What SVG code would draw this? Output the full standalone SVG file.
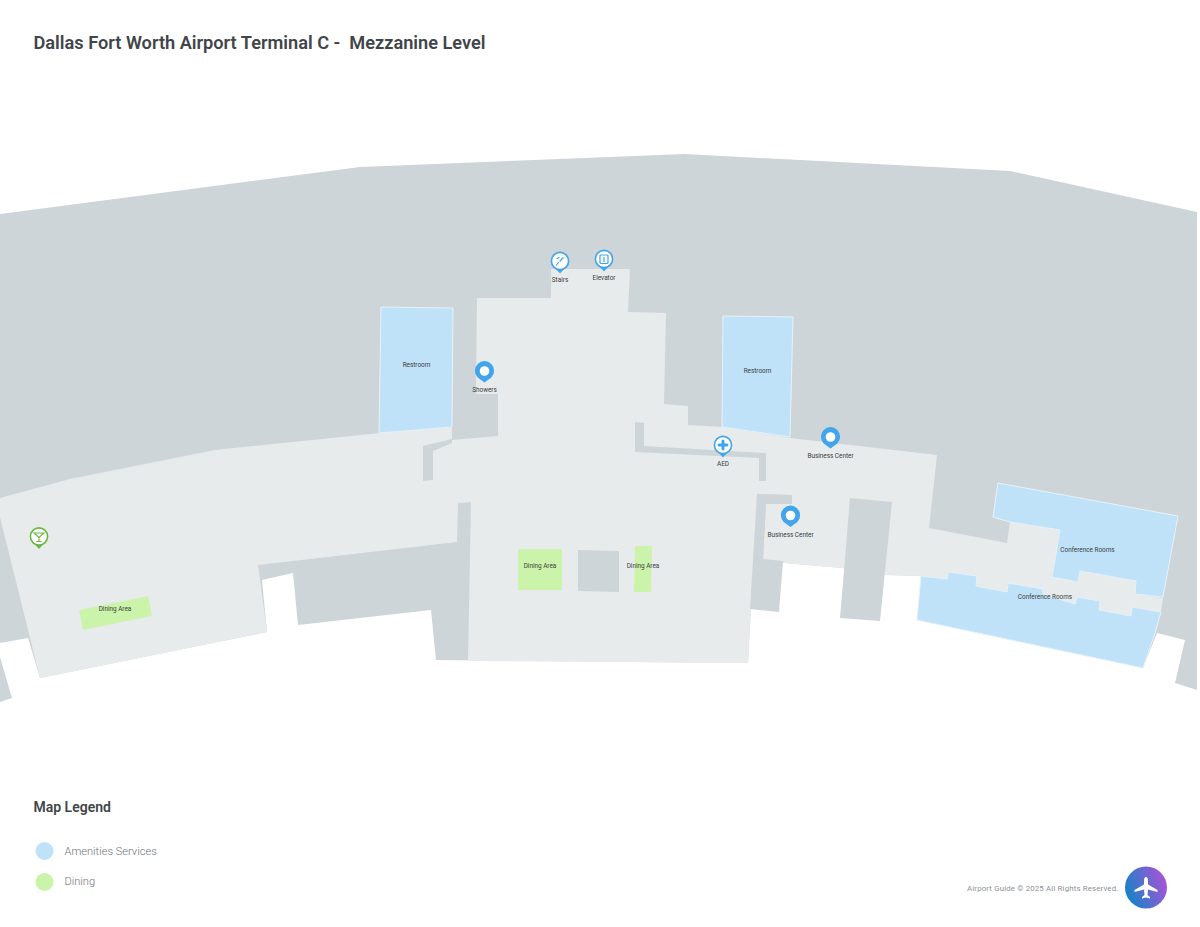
<svg xmlns="http://www.w3.org/2000/svg" width="1200" height="927" viewBox="0 0 1200 927">
<style>
.g{fill:#ced5d8}
.h{fill:#e7ebec}
.b{fill:#c0e2f9;stroke:#e6f2fa;stroke-width:1}
.d{fill:#cbf3a9}
text{font-family:Roboto,"Liberation Sans",sans-serif}
.l{font-size:6.4px;fill:#3a3f42;text-anchor:middle}
.ln{font-size:11.100px;font-weight:300;fill:#6f757a}
.pb{fill:#42a5ec}
.po{fill:#fff;stroke:#42a5ec;stroke-width:1.6}
.ico{fill:none;stroke:#42a5ec;stroke-width:1.2;stroke-linecap:round;stroke-linejoin:round}
</style>
<defs>
<linearGradient id="grad" x1="0" y1="0.7" x2="1" y2="0.3">
<stop offset="0.1" stop-color="#1f80c8"/>
<stop offset="1" stop-color="#ab52d8"/>
</linearGradient>
<path id="pin" d="M0 11.5 L-6.8 6.5 A9.6 9.6 0 1 1 6.8 6.5 Z"/>
</defs>
<rect width="1200" height="927" fill="#fff"/>
<text x="33.500" y="48.500" font-size="18.200" font-weight="600" fill="#3f4549" style="white-space:pre">Dallas Fort Worth Airport Terminal C -  Mezzanine Level</text>
<g id="map">
<polygon class="g" points="0,214 360,167 685,154 1010,171 1197,212 1197,690 1175,683 1185,640 1157,633 1143,668 917,620 921,576 887,575 842,568 785,563 763,559 757,494 748,663 436,660 431,610 298,625 293,573 262,580 267,632 40,678 28,638 0,643"/>
<polygon class="g" points="0,657 12,698 0,702"/>
<polygon id="hall" class="h" points="0,498 70,479 215,450 380,433 452,427 452,440 498,436 498,394 476,394 477,298 551,298 551,269 630,269 628,312 666,313 664,404 688,406 688,425 722,427 790,438 937,455 929,528 1007,543 1010,522 1060,530 1052,577 1078,582 1080,571 1136,581 1135,594 1163,598 1161,612 1132,607 1131,616 1099,610 1100,601 1077,597 1075,604 1043,594 1043,589 1008,583 1007,592 976,586 977,576 948,572 947,579 921,576 887,575 842,568 785,563 763,559 766,504 792,504 792,495 757,494 748,663 468,661 471,502 458,503 457,542 258,565 267,632 40,678 0,517"/>
<polygon class="g" points="423,446 452,439 452,443 433,451 433,480 423,481"/>
<polygon class="g" points="635,422 644,423 644,446 766,453 766,481 759,481 759,458 635,452"/>
<polygon class="g" points="757,494 792,495 792,504 766,504 763,559 783,561 779,612 750,609"/>
<polygon class="g" points="850,498 892,502 880,621 840,618"/>
<polygon class="g" points="578,550 619,551 619,592 578,591"/>
<polygon class="b" points="381,307 453,308 452,427 379,433"/>
<polygon class="b" points="723,316 793,317 790,437 722,427"/>
<polygon class="b" points="998,483 1178,516 1163,597 1135,594 1136,581 1080,571 1078,582 1052,577 1060,530 1010,522 993,517"/>
<polygon class="b" points="921,576 947,579 948,572 977,576 976,586 1007,592 1008,583 1043,589 1043,594 1075,604 1077,597 1100,601 1099,610 1131,616 1132,607 1161,612 1155,633 1143,668 917,620"/>
<polygon class="d" points="518,549 562,549 562,590 518,590"/>
<polygon class="d" points="635,546 652,546 651,592 634,592"/>
<polygon class="d" points="79,610 148,596 152,616 83,630"/>
</g>
<g id="labels">
<text class="l" x="416.500" y="367">Restroom</text>
<text class="l" x="757.500" y="372.500">Restroom</text>
<text class="l" x="540" y="567.500">Dining Area</text>
<text class="l" x="643" y="567.500">Dining Area</text>
<text class="l" x="115" y="611">Dining Area</text>
<text class="l" x="1087.500" y="552">Conference Rooms</text>
<text class="l" x="1045" y="598.500">Conference Rooms</text>
<text class="l" x="560" y="282">Stairs</text>
<text class="l" x="604" y="280">Elevator</text>
<text class="l" x="484.500" y="392">Showers</text>
<text class="l" x="723" y="466">AED</text>
<text class="l" x="830.500" y="458">Business Center</text>
<text class="l" x="790.500" y="536.500">Business Center</text>
</g>
<g id="pin-showers" transform="translate(484.500 371)"><use href="#pin" class="pb"/><circle r="4.800" fill="#fff"/></g>
<g id="pin-bc1" transform="translate(830.500 437)"><use href="#pin" class="pb"/><circle r="4.800" fill="#fff"/></g>
<g id="pin-bc2" transform="translate(790.500 515.500)"><use href="#pin" class="pb"/><circle r="4.800" fill="#fff"/></g>
<g id="pin-stairs" transform="translate(560 261)"><path class="pb" d="M-4 8 L0 12.500 L4 8Z"/><circle class="po" r="8.600"/><path class="ico" d="M-3.500 4 L-1.500 1.500 M0 0 L2 -2 M-3 -2.500 L-1 -3.500 M2 -3 L4 -3"/></g>
<g id="pin-elevator" transform="translate(604 259)"><path class="pb" d="M-4 8 L0 12.500 L4 8Z"/><circle class="po" r="8.600"/><rect class="ico" x="-4" y="-4" width="8" height="8.500" rx="1"/><path class="ico" d="M0 -1.500 L0 2.500"/></g>
<g id="pin-aed" transform="translate(723 445)"><path class="pb" d="M-4 8 L0 12.500 L4 8Z"/><circle class="po" r="8.600"/><path d="M0 -4 L0 4 M-4 0 L4 0" stroke="#42a5ec" stroke-width="3" stroke-linecap="round"/></g>
<g id="pin-dining" transform="translate(39 536.500)"><path d="M-4 8 L0 12.500 L4 8Z" fill="#6cb744"/><circle r="8.600" fill="#fff" stroke="#6cb744" stroke-width="1.600"/><path d="M-5 -3.500 L5 -3.500 L0 1 Z M0 1 L0 5 M-2.500 5 L2.500 5" fill="none" stroke="#6cb744" stroke-width="1.100"/></g>
<g id="legend">
<text x="33.500" y="812" font-size="14" font-weight="600" fill="#3f4549">Map Legend</text>
<circle cx="44.500" cy="851" r="9" fill="#c0e2f9"/>
<text class="ln" x="64.500" y="855">Amenities Services</text>
<circle cx="44.500" cy="882" r="9" fill="#cbf3a9"/>
<text class="ln" x="64.500" y="885">Dining</text>
</g>
<g id="footer">
<text x="967" y="890.500" font-size="7.800" fill="#8b9196" letter-spacing="0.180">Airport Guide © 2025 All Rights Reserved.</text>
<circle cx="1146" cy="887.500" r="21" fill="url(#grad)"/>
<path fill="#fff" d="M1146 877 C1147.500 877 1148 879 1148 881 L1148 884.500 L1157.500 890 L1157.500 892 L1148 889.500 L1147.500 895 L1150 897 L1150 898.500 L1146 897.500 L1142 898.500 L1142 897 L1144.500 895 L1144 889.500 L1134.500 892 L1134.500 890 L1144 884.500 L1144 881 C1144 879 1144.500 877 1146 877Z"/>
</g>
</svg>
